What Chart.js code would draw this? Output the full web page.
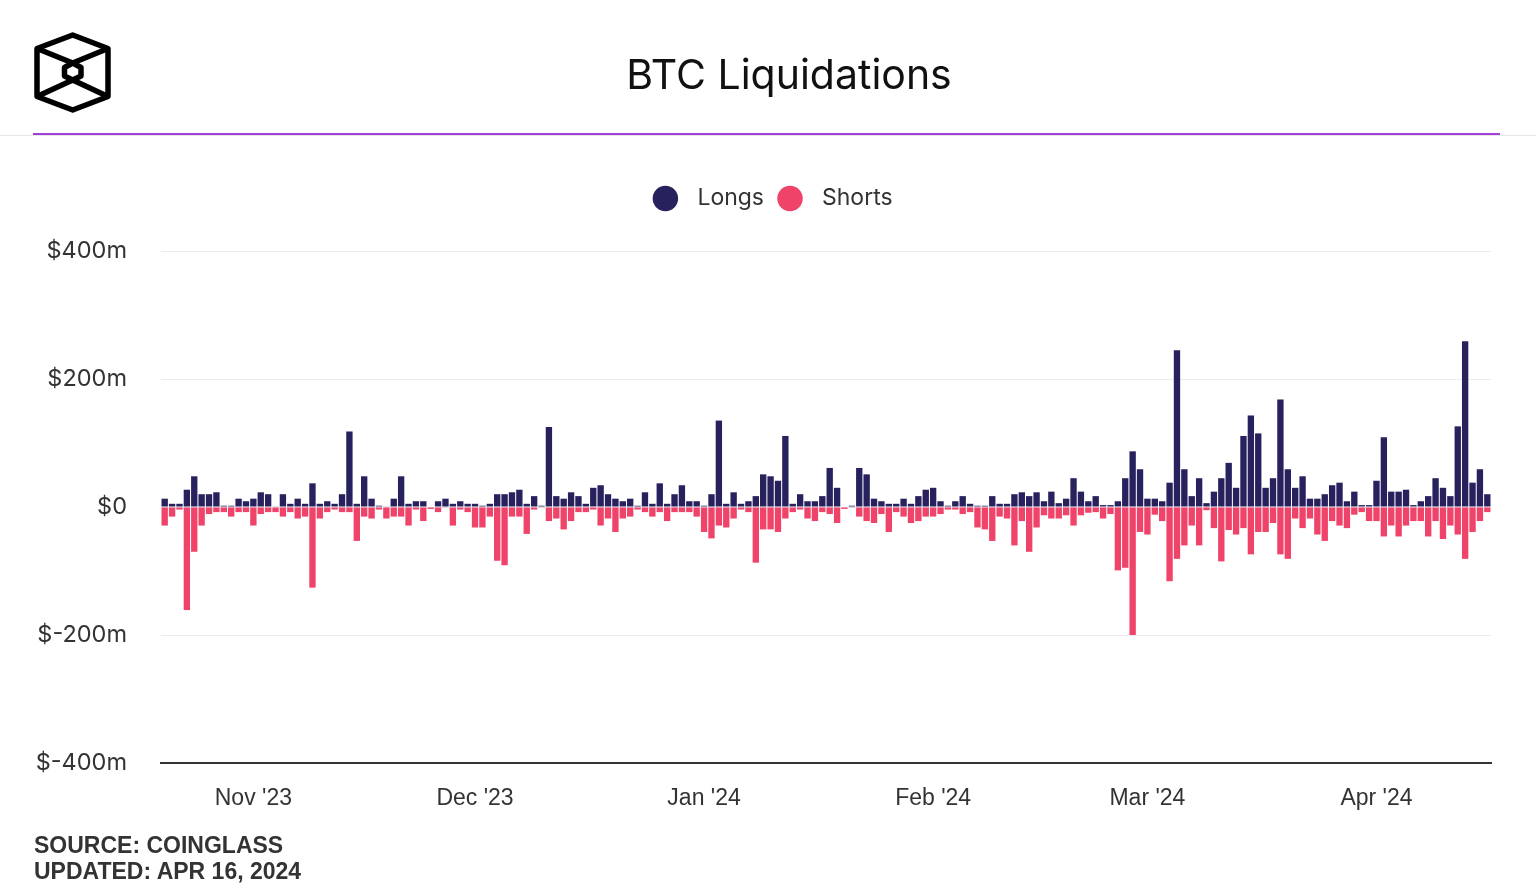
<!DOCTYPE html>
<html>
<head>
<meta charset="utf-8">
<script src="https://cdn.jsdelivr.net/npm/chart.js@4.4.1/dist/chart.umd.min.js"></script>
<style>
  body { margin: 0; width: 1536px; height: 896px; overflow: hidden; position: relative; background: #fff; }
  #chart { position: absolute; left: 0; top: 0; }
  #title { position: absolute; left: 0; width: 1578px; top: 49px; text-align: center;
           font: 400 41px Inter, sans-serif; color: #111; }
  #logo { position: absolute; left: 0; top: 0; }
  #rule { position: absolute; left: 0; top: 135px; width: 1536px; height: 1px; background: #e6e6e6; }
  #accent { position: absolute; left: 33px; top: 133px; width: 1467px; height: 2px; background: #a23fd6; }
  #source { position: absolute; left: 34px; top: 832px; font: 700 23px "Liberation Sans", Arial, sans-serif;
            line-height: 26px; color: #333; }
</style>
</head>
<body>
<canvas id="chart" width="1536" height="896"></canvas>
<svg id="logo" width="140" height="130">
  <g fill="none" stroke="#000" stroke-width="5.5" stroke-linejoin="round">
    <polygon points="72.7,35 108,48.5 108,96.5 72.7,110 37,96.5 37,48.5"/>
    <polyline points="37,48.5 72.7,63 108,48.5"/>
    <polyline points="37,96.5 72.7,80 108,96.5"/>
    <polygon points="72.7,63 81,67.5 81,76 72.7,80 64.5,76 64.5,67.5"/>
  </g>
</svg>
<div id="title">BTC Liquidations</div>
<div id="rule"></div>
<div id="accent"></div>
<div id="source">SOURCE: COINGLASS<br>UPDATED: APR 16, 2024</div>

<script>
// daily values in $m, from Oct 20 2023 to Apr 16 2024
const startDate = '2023-10-20';
const longs = [
  13, 5, 5, 27, 48, 20, 20, 23, 2, 2,
  13, 9, 13, 23, 20, 1, 20, 5, 13, 5,
  37, 5, 9, 5, 20, 118, 5, 48, 13, 2,
  1, 13, 48, 5, 9, 9, 0, 9, 13, 5,
  9, 5, 5, 2, 5, 20, 20, 23, 27, 5,
  17, 2, 125, 17, 13, 23, 17, 5, 30, 34,
  20, 13, 9, 13, 2, 23, 5, 37, 5, 20,
  34, 9, 9, 2, 20, 135, 5, 23, 5, 9,
  17, 51, 48, 41, 111, 5, 20, 9, 9, 17,
  61, 30, 0, 2, 61, 51, 13, 9, 5, 5,
  13, 5, 17, 27, 30, 9, 2, 9, 17, 5,
  2, 2, 17, 5, 5, 20, 23, 17, 23, 9,
  24, 6, 13, 45, 24, 9, 17, 3, 3, 9,
  45, 87, 59, 13, 13, 9, 38, 245, 59, 17,
  45, 6, 24, 45, 69, 30, 111, 143, 115, 30,
  45, 168, 59, 30, 48, 13, 13, 20, 34, 38,
  9, 24, 3, 3, 41, 109, 24, 24, 27, 3,
  9, 17, 45, 30, 17, 126, 259, 38, 59, 20
];
const shorts = [
  -29, -15, -4, -161, -70, -29, -11, -8, -8, -15,
  -8, -8, -29, -11, -8, -8, -15, -8, -18, -15,
  -126, -18, -8, -4, -8, -8, -53, -15, -18, -4,
  -18, -15, -15, -29, -4, -22, -3, -8, -1, -29,
  -4, -8, -32, -32, -15, -84, -91, -15, -15, -42,
  -4, -1, -22, -18, -35, -22, -8, -8, -4, -29,
  -18, -39, -18, -15, -4, -8, -15, -8, -22, -8,
  -8, -8, -15, -39, -49, -29, -32, -18, -4, -8,
  -87, -35, -35, -39, -18, -8, -4, -18, -22, -8,
  -11, -25, -3, -1, -15, -22, -25, -11, -39, -8,
  -15, -25, -22, -15, -15, -11, -4, -4, -11, -8,
  -32, -35, -53, -15, -18, -60, -22, -70, -32, -13,
  -18, -18, -13, -29, -13, -9, -8, -18, -11, -99,
  -95, -200, -39, -43, -12, -22, -116, -81, -60, -29,
  -60, -5, -33, -85, -36, -43, -33, -74, -39, -39,
  -25, -74, -81, -18, -33, -18, -43, -53, -22, -29,
  -33, -12, -8, -22, -22, -46, -29, -46, -29, -22,
  -22, -46, -22, -50, -29, -43, -81, -39, -22, -8
];
const monthTicks = {
  '2023-11-01': "Nov '23",
  '2023-12-01': "Dec '23",
  '2024-01-01': "Jan '24",
  '2024-02-01': "Feb '24",
  '2024-03-01': "Mar '24",
  '2024-04-01': "Apr '24"
};
const yTicks = [-400, -200, 0, 200, 400];

const days = [];
const d0 = new Date(startDate + 'T00:00:00Z');
for (let i = 0; i < longs.length; i++) {
  const d = new Date(d0.getTime() + i * 86400000);
  days.push(d.toISOString().slice(0, 10));
}

// extra room under the legend, and nudge it right
const legendSpace = {
  id: 'legendSpace',
  beforeInit(chart) {
    const fit = chart.legend.fit;
    chart.legend.fit = function () {
      fit.call(this);
      this.height += 31;
    };
  },
  afterLayout(chart) {
    chart.legend.left += 29;
    chart.legend.right += 29;
  }
};

new Chart(document.getElementById('chart'), {
  type: 'bar',
  data: {
    labels: days,
    datasets: [
      { label: 'Longs', data: longs, backgroundColor: '#27215e' },
      { label: 'Shorts', data: shorts, backgroundColor: '#f0436a' }
    ]
  },
  options: {
    responsive: false,
    animation: false,
    layout: { padding: { top: 170, right: 45, bottom: 73, left: 0 } },
    datasets: { bar: { barPercentage: 0.86, categoryPercentage: 1, borderWidth: 0 } },
    plugins: {
      tooltip: { enabled: false },
      legend: {
        labels: {
          usePointStyle: true,
          pointStyle: 'circle',
          boxWidth: 18,
          boxHeight: 18,
          padding: 17,
          color: '#333',
          font: { family: 'Inter', size: 23 },
          generateLabels(chart) {
            const items = Chart.defaults.plugins.legend.labels.generateLabels(chart);
            items.forEach(it => { it.text = '\u2002' + it.text; it.lineWidth = 0; });
            return items;
          }
        }
      }
    },
    scales: {
      x: {
        stacked: true,
        grid: { display: false },
        border: { color: '#333', width: 2 },
        ticks: {
          autoSkip: false,
          maxRotation: 0,
          padding: 14,
          color: '#333',
          font: { family: 'Liberation Sans', size: 23 },
          callback(value) { return monthTicks[days[value]] || ''; }
        },
        afterFit(scale) { scale.height = 60; }
      },
      y: {
        stacked: true,
        min: -400,
        max: 400,
        afterBuildTicks(scale) { scale.ticks = yTicks.map(v => ({ value: v })); },
        grid: { color: '#ececf0', drawTicks: false },
        border: { display: false },
        ticks: {
          padding: 34,
          color: '#333',
          font: { family: 'Inter', size: 23.5 },
          callback(v) { return v === 0 ? '$0' : '$' + v + 'm'; }
        },
        afterFit(scale) { scale.width = 161; }
      }
    }
  },
  plugins: [legendSpace]
});
</script>
</body>
</html>
